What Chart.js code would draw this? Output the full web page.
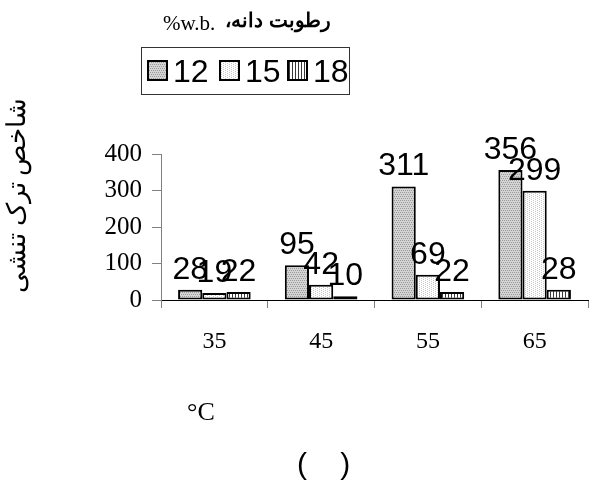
<!DOCTYPE html>
<html>
<head>
<meta charset="utf-8">
<script src="https://cdn.jsdelivr.net/npm/chart.js@4"></script>
<style>
  html, body { margin: 0; padding: 0; background: #fff; }
  canvas { display: block; }
</style>
</head>
<body>
<canvas id="chart" width="596" height="487"></canvas>
<script>
// Data
const temperatures = ['35', '45', '55', '65'];
const moistureLabels = ['12', '15', '18'];
const values12 = [28, 95, 311, 356];
const values15 = [19, 42, 69, 299];
const values18 = [22, 10, 22, 28];
const yTicks = [0, 100, 200, 300, 400];

const legendTitle = 'رطوبت دانه،';
const legendUnit = '%w.b.';
const yTitle = 'شاخص ترک تنشی';
const xUnit = '°C';
const caption = '(    )';

// fill patterns like the old excel hatching
function makePattern(size, draw) {
    const c = document.createElement('canvas');
    c.width = size; c.height = size;
    const g = c.getContext('2d');
    draw(g);
    return g.createPattern(c, 'repeat');
}
const pat12 = makePattern(4, g => {
    g.fillStyle = '#d4d4d4'; g.fillRect(0, 0, 4, 4);
    g.fillStyle = '#9a9a9a';
    for (let i = 0; i < 4; i++) g.fillRect(i, (i * 2) % 4, 1, 1);
});
const pat15 = makePattern(4, g => {
    g.fillStyle = '#ffffff'; g.fillRect(0, 0, 4, 4);
    g.fillStyle = '#c8c8c8';
    g.fillRect(1, 0, 1, 1); g.fillRect(1, 2, 1, 1);
    g.fillRect(3, 1, 1, 1); g.fillRect(3, 3, 1, 1);
});
const pat18 = makePattern(3, g => {
    g.fillStyle = '#ffffff'; g.fillRect(0, 0, 3, 3);
    g.fillStyle = '#3a3a3a'; g.fillRect(1, 0, 1, 3);
});

const serif = '"Liberation Serif", "Times New Roman", serif';
const sans = '"Liberation Sans", Arial, sans-serif';

const extras = {
    id: 'extras',
    afterDatasetsDraw(chart) {
        const ctx = chart.ctx;
        ctx.save();
        // value labels
        ctx.fillStyle = '#000';
        ctx.font = '32px ' + sans;
        ctx.textAlign = 'center';
        ctx.textBaseline = 'alphabetic';
        chart.data.datasets.forEach((ds, i) => {
            chart.getDatasetMeta(i).data.forEach((bar, j) => {
                ctx.fillText(String(ds.data[j]), bar.x, bar.y - 11);
            });
        });

        // title
        ctx.font = '21px ' + serif;
        ctx.textAlign = 'left';
        ctx.fillText(legendUnit, 163, 30);
        ctx.font = 'bold 20px ' + sans;
        ctx.textAlign = 'right';
        ctx.direction = 'rtl';
        ctx.fillText(legendTitle, 331, 27);
        ctx.direction = 'ltr';

        // legend box
        ctx.strokeStyle = '#333';
        ctx.lineWidth = 1;
        ctx.strokeRect(141.5, 47.5, 208, 47);
        const swX = [148, 220, 288];
        ctx.font = '32px ' + sans;
        ctx.textAlign = 'left';
        chart.data.datasets.forEach((ds, i) => {
            ctx.fillStyle = ds.backgroundColor;
            ctx.fillRect(swX[i], 61, 19, 19);
            ctx.strokeStyle = '#000';
            ctx.lineWidth = 2;
            ctx.strokeRect(swX[i], 61, 19, 19);
            ctx.fillStyle = '#000';
            ctx.fillText(ds.label, swX[i] + 25, 82);
        });

        // y title
        ctx.save();
        ctx.translate(25, 195);
        ctx.rotate(-Math.PI / 2);
        ctx.font = '26px ' + serif;
        ctx.textAlign = 'center';
        ctx.direction = 'rtl';
        ctx.fillText(yTitle, 0, 0);
        ctx.restore();

        // unit + caption
        ctx.font = '26px ' + serif;
        ctx.textAlign = 'left';
        ctx.fillText(xUnit, 187, 420);
        ctx.font = '30px ' + sans;
        ctx.fillText(caption, 297, 474);
        ctx.restore();
    }
};

new Chart(document.getElementById('chart').getContext('2d'), {
    type: 'bar',
    data: {
        labels: temperatures,
        datasets: [
            { label: moistureLabels[0], data: values12, backgroundColor: pat12 },
            { label: moistureLabels[1], data: values15, backgroundColor: pat15 },
            { label: moistureLabels[2], data: values18, backgroundColor: pat18 }
        ]
    },
    options: {
        responsive: false,
        animation: false,
        devicePixelRatio: 1,
        layout: { padding: { top: 154, right: 8, left: 0, bottom: 0 } },
        datasets: {
            bar: {
                borderColor: '#000', borderWidth: 2, borderSkipped: false,
                categoryPercentage: 0.68, barPercentage: 1
            }
        },
        plugins: { legend: { display: false }, title: { display: false }, tooltip: { enabled: false } },
        scales: {
            x: {
                afterFit: s => { s.height = 187; },
                grid: { offset: true, drawOnChartArea: false, color: '#808080', tickLength: 8 },
                border: { color: '#000', width: 1 },
                ticks: { color: '#000', font: { family: serif, size: 24 }, padding: 19 }
            },
            y: {
                min: 0, max: 400,
                afterFit: s => { s.width = 161; },
                afterBuildTicks: s => { s.ticks = yTicks.map(v => ({ value: v })); },
                grid: { drawOnChartArea: false, color: '#808080', tickLength: 9 },
                border: { color: '#808080', width: 1 },
                ticks: { color: '#000', font: { family: serif, size: 25 }, padding: 10 }
            }
        }
    },
    plugins: [extras]
});
</script>
</body>
</html>
